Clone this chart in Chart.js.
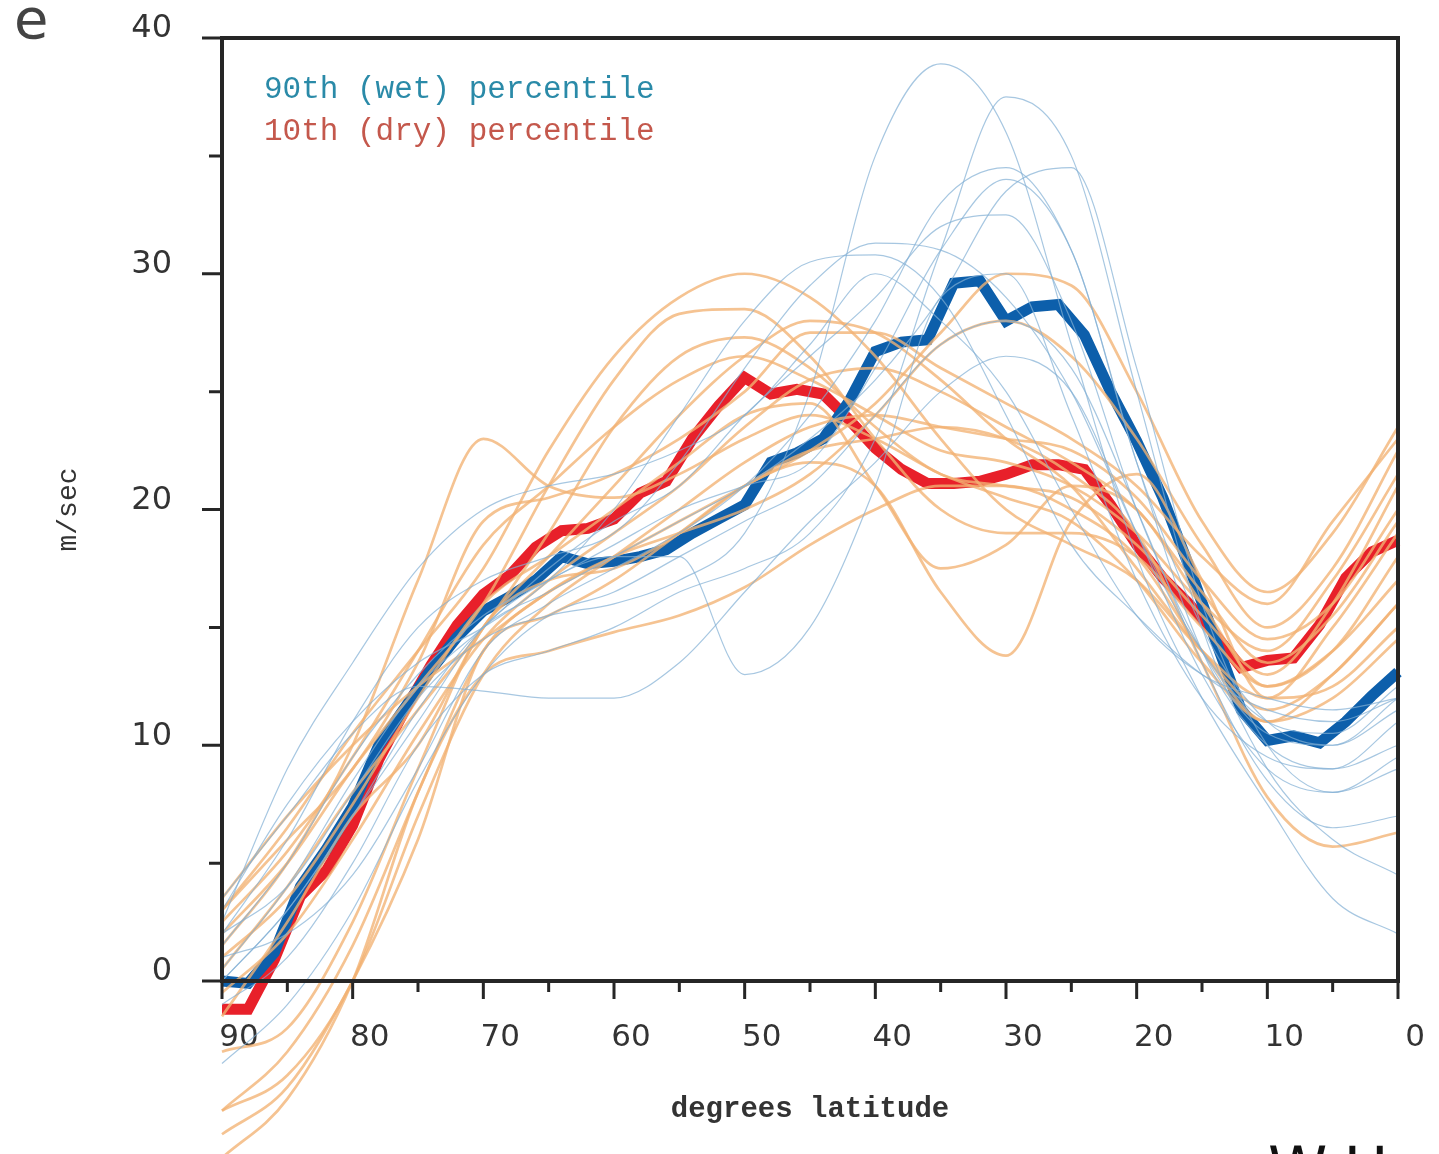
<!DOCTYPE html>
<html>
<head>
<meta charset="utf-8">
<title>m/sec by degrees latitude</title>
<script src="https://cdn.jsdelivr.net/npm/chart.js@4.4.1/dist/chart.umd.min.js"></script>
<style>
  html, body { margin: 0; padding: 0; background: #fff; }
  body { width: 1439px; height: 1154px; overflow: hidden; position: relative; }
  #chart { position: absolute; left: 0; top: 0; }
  .panel { position: absolute; left: 14px; top: -14px; font: 56px "DejaVu Sans", sans-serif; color: #444; }
  .credit { position: absolute; left: 1268px; top: 1134px; font: 60px "DejaVu Sans", sans-serif; color: #111; letter-spacing: 2px; }
</style>
</head>
<body>
<canvas id="chart" width="1439" height="1154"></canvas>
<div class="panel">e</div>
<div class="credit">W.H.</div>
<script>
// thick lines: every 2 degrees, 90 -> 0
const latFine = [90, 88, 86, 84, 82, 80, 78, 76, 74, 72, 70, 68, 66, 64, 62, 60, 58, 56, 54, 52, 50, 48, 46,
                 44, 42, 40, 38, 36, 34, 32, 30, 28, 26, 24, 22, 20, 18, 16, 14, 12, 10, 8, 6, 4, 2, 0];
const wet90 = [0, -0.1, 1.2, 4, 5.6, 7.4, 10, 11.6, 13.2, 14.6, 15.7, 16.3, 17, 18, 17.7, 17.8, 18, 18.3, 19, 19.6, 20.2, 22, 22.4,
               23, 24.6, 26.7, 27.1, 27.2, 29.6, 29.7, 28, 28.6, 28.7, 27.4, 25, 22.9, 20.5, 17.6, 14.5, 11.5, 10.2, 10.4, 10.1, 11, 12.1, 13.1];
const dry10 = [-1.2, -1.2, 0.9, 3.6, 4.7, 6.6, 9.4, 11.5, 13.4, 15.1, 16.4, 17.2, 18.4, 19.1, 19.2, 19.6, 20.7, 21.2, 23, 24.4, 25.6, 24.9, 25.1,
               24.9, 23.8, 22.6, 21.7, 21.1, 21.1, 21.2, 21.5, 21.9, 21.9, 21.7, 20.2, 18.5, 17.1, 16, 14.7, 13.3, 13.6, 13.7, 15.1, 17.1, 18.2, 18.7];

// individual members: every 5 degrees, 90 -> 0
const latCoarse = [90, 85, 80, 75, 70, 65, 60, 55, 50, 45, 40, 35, 30, 25, 20, 15, 10, 5, 0];
const dryMembers = [
  [3, 6.5, 10.5, 14, 17.5, 22.5, 26.5, 29, 30, 29, 26.5, 23, 20, 18.5, 17, 14, 12, 15, 19],
  [2, 5, 9, 12.5, 16, 21, 25.5, 28.3, 28.5, 26.5, 23, 20, 19, 19, 18, 15, 12.5, 14, 17],
  [0.5, 4, 8, 11.5, 15, 19, 23.5, 26.5, 27.3, 26, 23.5, 21.5, 21, 20.5, 18.5, 15.5, 13, 16, 21],
  [-1.5, 2.5, 7, 10, 15, 18, 21, 24, 26.5, 28, 27.5, 25.5, 23, 21, 17.5, 14, 11.5, 13, 16],
  [3.5, 7, 10, 12.5, 14.5, 16.5, 18, 19.5, 21, 22.5, 24.5, 27.5, 30, 29.5, 25, 19.5, 16.5, 19, 23.5],
  [-5.5, -3, 1.5, 8, 14, 16.5, 18, 19, 20, 21.5, 24, 27, 28, 26.5, 23, 18.5, 15, 17.5, 22.5],
  [-6.5, -4.5, 0, 6, 14, 15.5, 17, 19, 21, 22, 21, 16.5, 13.8, 19.5, 21.5, 17, 12, 12.5, 15],
  [1, 3.5, 7.5, 12, 16, 18, 20, 22, 24, 24.5, 21, 17.5, 18.5, 21, 20, 16, 12.5, 14, 18],
  [1.5, 5, 10, 17, 23, 21, 20.5, 21.5, 23, 24, 23, 21.5, 20.5, 19.5, 17, 13.5, 11, 12, 14.5],
  [-3, -2, 2.5, 9, 15, 17, 17.5, 19, 21, 22.5, 23, 23.5, 23, 21.5, 19, 13.5, 7.8, 5.7, 6.3],
  [-7.5, -5, 0, 8, 13, 14, 14.8, 15.5, 16.7, 18.5, 20, 21, 21, 20, 18, 14, 11, 13, 16],
  [2.5, 5.5, 9.5, 14, 18.5, 21, 23.5, 25.5, 26.5, 25.5, 24, 22.5, 22, 21, 19, 16, 14, 17, 21.5],
  [-0.5, 2, 6, 10.5, 14.5, 17, 19, 21, 23.5, 25.5, 26, 25, 23.5, 22, 20, 16.5, 13.5, 15.5, 19.5],
  [3, 6, 9, 13.5, 19.5, 20.5, 21.5, 23, 25, 27.5, 27.5, 26, 24.5, 23, 21, 18, 16, 19.5, 23],
  [-5.5, -4, 0, 7, 13, 16, 18, 20, 22, 23.5, 24, 23.5, 23, 22.5, 20.5, 17, 14.5, 16, 20]
];
const wetMembers = [
  [2, 4, 8, 12, 14.5, 15.5, 16, 17, 19, 25, 35, 38.9, 36, 27, 18, 12, 7.5, 3.5, 2],
  [-1, 1, 5, 10, 13, 14, 15, 16.5, 17.5, 19, 23, 31, 37.5, 35, 25, 15, 9, 6, 4.5],
  [0, 3, 7, 11.5, 15, 16.5, 18, 19.5, 21, 23, 25.5, 29, 33.5, 34.5, 26, 16, 10, 8, 9],
  [1.5, 5, 9.5, 13, 15.5, 17, 18.5, 20, 21, 22, 26, 31, 34, 31, 22, 15, 11, 10, 11.5],
  [0.5, 4, 8.5, 12.5, 15, 17.5, 19.5, 21, 24, 26.5, 29, 32, 32.5, 28, 20, 14, 10.5, 10, 12],
  [2, 6, 11, 15, 17, 18, 19, 22, 26, 29.5, 31.3, 31, 29, 25, 19, 14, 11, 10.5, 12.5],
  [3, 7.5, 11, 13.5, 15, 17, 20, 24, 28, 30.5, 30.8, 29, 24, 18.5, 15.5, 13, 11.5, 11, 12],
  [0, 3, 7, 11, 15, 17, 18, 18, 13, 15, 21, 29, 30, 24, 17, 12, 9.5, 9, 10],
  [3.5, 7, 10.5, 12.5, 12.3, 12, 12, 13.5, 16.5, 19.5, 22, 25, 26.5, 25, 19, 13, 9, 8, 9.5],
  [2.5, 9, 13.5, 17.5, 20, 21, 21.5, 22.5, 24, 27, 30, 28, 25, 20, 15.5, 13, 12, 11.5, 12],
  [-3.5, -1, 3, 8.5, 13, 15.5, 16.5, 18, 19.5, 21, 24, 27, 28, 26, 20, 13.5, 8.5, 6.5, 7],
  [1, 2, 4.5, 9, 14, 16, 17.5, 19, 21, 24, 28, 33, 34.5, 31, 22, 14, 10, 9, 11]
];
const yTicks = [0, 10, 20, 30, 40];
const xTicks = [90, 80, 70, 60, 50, 40, 30, 20, 10, 0];

const toPoints = (lats, vals) => lats.map((lat, i) => ({ x: lat, y: vals[i] }));

const datasets = [];
wetMembers.forEach((m, i) => datasets.push({
  label: 'wet member ' + (i + 1), data: toPoints(latCoarse, m),
  borderColor: 'rgba(130,175,212,0.7)', borderWidth: 1.2, cubicInterpolationMode: 'monotone', clip: false
}));
dryMembers.forEach((m, i) => datasets.push({
  label: 'dry member ' + (i + 1), data: toPoints(latCoarse, m),
  borderColor: 'rgba(242,178,115,0.78)', borderWidth: 2.7, cubicInterpolationMode: 'monotone', clip: false
}));
datasets.push({
  label: '90th (wet) percentile', data: toPoints(latFine, wet90),
  borderColor: '#0d5fab', borderWidth: 11, tension: 0, clip: false, legendColor: '#2a8aa8'
});
datasets.push({
  label: '10th (dry) percentile', data: toPoints(latFine, dry10),
  borderColor: '#e8202a', borderWidth: 11, tension: 0, clip: false, legendColor: '#c4584c'
});

// frame, tick marks every 5 units and the in-plot legend
const frameAndTicks = {
  id: 'frameAndTicks',
  afterDatasetsDraw(chart) {
    const { ctx, chartArea: a, scales: { x, y } } = chart;
    ctx.save();
    ctx.strokeStyle = '#262626';
    ctx.lineWidth = 4;
    ctx.strokeRect(a.left, a.top, a.right - a.left, a.bottom - a.top);
    ctx.lineWidth = 3;
    ctx.beginPath();
    for (let v = 0; v <= 90; v += 5) {
      const px = x.getPixelForValue(v);
      ctx.moveTo(px, a.bottom);
      ctx.lineTo(px, a.bottom + (v % 10 === 0 ? 18 : 11));
    }
    for (let v = 0; v <= 40; v += 5) {
      const py = y.getPixelForValue(v);
      ctx.moveTo(a.left, py);
      ctx.lineTo(a.left - (v % 10 === 0 ? 20 : 13), py);
    }
    ctx.stroke();

    ctx.font = '31px "Liberation Mono", monospace';
    ctx.textBaseline = 'middle';
    ctx.textAlign = 'left';
    const keyed = chart.data.datasets.filter(d => d.legendColor);
    keyed.forEach((d, i) => {
      ctx.fillStyle = d.legendColor;
      ctx.fillText(d.label, a.left + 42, a.top + 52 + i * 42);
    });
    ctx.restore();
  }
};

new Chart(document.getElementById('chart'), {
  type: 'line',
  data: { datasets },
  options: {
    responsive: false,
    animation: false,
    devicePixelRatio: 1,
    layout: { padding: { top: 38, right: 41, left: 0, bottom: 0 } },
    elements: { point: { radius: 0 }, line: { borderJoinStyle: 'miter', borderCapStyle: 'butt' } },
    plugins: { legend: { display: false }, tooltip: { enabled: false } },
    scales: {
      x: {
        type: 'linear', reverse: true, min: 0, max: 90,
        afterFit: s => { s.height = 173; s.paddingLeft = 0; s.paddingRight = 0; },
        afterBuildTicks: s => { s.ticks = xTicks.map(v => ({ value: v })); },
        grid: { display: false, drawTicks: false },
        border: { display: false },
        ticks: { autoSkip: false, maxRotation: 0, padding: 38, labelOffset: 17, color: '#333',
                 font: { family: '"DejaVu Sans", sans-serif', size: 31 } },
        title: { display: true, text: 'degrees latitude', color: '#333', padding: { top: 0, bottom: 27 },
                 font: { family: '"Liberation Mono", monospace', size: 29, weight: 'bold' } }
      },
      y: {
        min: 0, max: 40,
        afterFit: s => { s.width = 222; s.paddingTop = 0; s.paddingBottom = 0; },
        afterBuildTicks: s => { s.ticks = yTicks.map(v => ({ value: v })); },
        grid: { display: false, drawTicks: false },
        border: { display: false },
        ticks: { padding: 50, labelOffset: -9, color: '#333',
                 font: { family: '"DejaVu Sans", sans-serif', size: 32 } },
        title: { display: true, text: 'm/sec', color: '#333', padding: { top: 52, bottom: 0 },
                 font: { family: '"Liberation Mono", monospace', size: 28 } }
      }
    }
  },
  plugins: [frameAndTicks]
});
</script>
</body>
</html>
